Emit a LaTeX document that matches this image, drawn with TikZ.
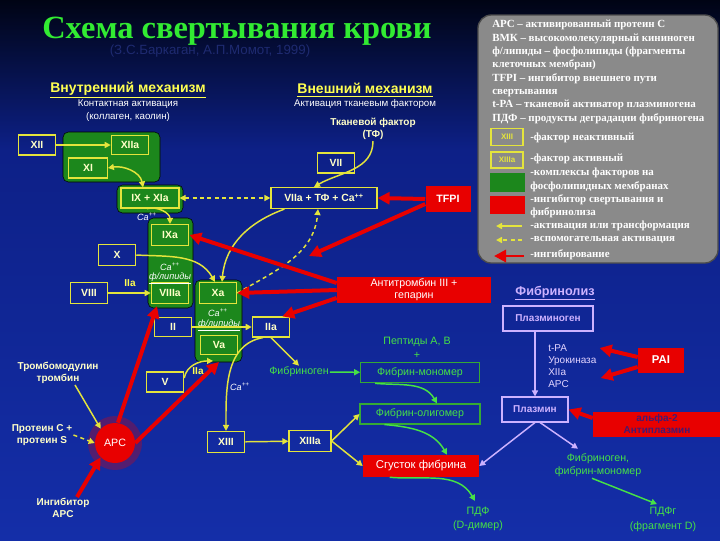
\documentclass[tikz,border=0pt]{standalone}
\usepackage{fontspec}
\setmainfont{Liberation Serif}
\setsansfont{Liberation Sans}
\usetikzlibrary{arrows.meta,calc}

\definecolor{bgtop}{RGB}{0,4,20}
\definecolor{bgmid}{RGB}{13,32,135}
\definecolor{bgblue}{RGB}{20,46,168}
\definecolor{ylw}{RGB}{228,228,60}
\definecolor{boxtxt}{RGB}{255,255,200}
\definecolor{hdr}{RGB}{255,255,80}
\definecolor{cplx}{RGB}{28,135,28}
\definecolor{inhred}{RGB}{232,0,0}
\definecolor{fibgrn}{RGB}{70,225,70}
\definecolor{lysis}{RGB}{205,178,255}
\definecolor{lgdgray}{RGB}{138,138,138}
\definecolor{ttlgrn}{RGB}{50,235,50}
\definecolor{subttl}{RGB}{30,42,112}
\definecolor{antipl}{RGB}{70,25,110}

\tikzset{
  fct/.style={draw=ylw, line width=0.9pt, text=boxtxt, inner sep=0pt,
    minimum width=28pt, minimum height=15pt,
    font=\sffamily\bfseries\fontsize{7.8}{9}\selectfont},
  cplxbox/.style={fill=cplx, rounded corners=4pt},
  inhbox/.style={fill=inhred, text=white, inner sep=0pt, align=center,
    font=\sffamily\fontsize{8}{9}\selectfont},
  fibbox/.style={draw=fibgrn!75!black, line width=0.8pt, text=fibgrn, inner sep=0pt,
    minimum width=89pt, minimum height=15.5pt, font=\sffamily\fontsize{8}{9}\selectfont},
  lysbox/.style={draw=lysis, line width=0.8pt, text=lysis, inner sep=0pt,
    minimum height=18.75pt, font=\sffamily\bfseries\fontsize{7.5}{9}\selectfont},
  note/.style={inner sep=0.75pt, align=center, text=boxtxt,
    font=\sffamily\bfseries\fontsize{7.5}{9}\selectfont},
  fibtxt/.style={inner sep=0.75pt, align=center, text=fibgrn,
    font=\sffamily\fontsize{8}{10.5}\selectfont},
  ion/.style={inner sep=0.75pt, text=white, font=\sffamily\itshape\fontsize{6.8}{7}\selectfont},
  lgd/.style={inner sep=0.75pt, align=left, text=white,
    font=\rmfamily\bfseries\fontsize{8.2}{10}\selectfont},
  act/.style={draw=ylw, line width=1.1pt, ->},
  aux/.style={act, dash pattern={on 3pt off 2.5pt}},
  inh/.style={draw=inhred, line width=3pt, -{Triangle[length=9pt,width=9pt]}},
  fib/.style={draw=fibgrn, line width=1.1pt, ->},
  lys/.style={draw=lysis, line width=1.1pt, ->},
}

\begin{document}
\begin{tikzpicture}[x=0.75pt,y=0.75pt,yscale=-1,xscale=1,>={Triangle[length=4.5pt,width=4.5pt]}]
\useasboundingbox (0,0) rectangle (720,540);
%Shape: Rectangle [background]
\shade [top color=bgtop, bottom color=bgmid] (0,0) rectangle (720,150);
\shade [top color=bgmid, bottom color=bgblue] (0,150) rectangle (720,540);

% Text Node
\draw (237,31) node [text=ttlgrn, font=\rmfamily\bfseries\fontsize{24.3}{28}\selectfont] (ttl) {Схема свертывания крови};
% Text Node
\draw (210,51) node [text=subttl, font=\sffamily\fontsize{10}{12}\selectfont] (src) {(З.С.Баркаган, А.П.Момот, 1999)};

%Shape: Rectangle [legend]
\draw [fill=lgdgray, draw=black!70, line width=1pt, rounded corners=10pt] (478,15) rectangle (718,263);
% Text Node
\draw (491,19) node [lgd, anchor=north west] (lgdtxt) {APC – активированный протеин С\\ВМК – высокомолекулярный кининоген\\ф/липиды – фосфолипиды (фрагменты\\клеточных мембран)\\TFPI – ингибитор внешнего пути\\свертывания\\t-PA – тканевой активатор плазминогена\\ПДФ – продукты деградации фибриногена};
\draw (507,137) node [fct, minimum width=24pt, minimum height=12.5pt, text=ylw, font=\sffamily\bfseries\fontsize{6}{7}\selectfont] (lg13) {XIII};
\draw (507,160) node [fct, minimum width=24pt, minimum height=12pt, text=ylw, font=\sffamily\bfseries\fontsize{6}{7}\selectfont] (lg13a) {XIIIa};
\fill [cplx] (490,173) rectangle (525,192);
\fill [inhred] (490,196) rectangle (525,214);
\draw (529,138) node [lgd, anchor=west] (lgd1) {-фактор неактивный};
\draw (529,159) node [lgd, anchor=west] (lgd2) {-фактор активный};
\draw (529,180) node [lgd, anchor=west] (lgd3) {-комплексы факторов на\\фосфолипидных мембранах};
\draw (529,206) node [lgd, anchor=west] (lgd4) {-ингибитор свертывания и\\фибринолиза};
\draw (529,226) node [lgd, anchor=west] (lgd5) {-активация или трансформация};
\draw (529,240) node [lgd, anchor=west] (lgd6) {-вспомогательная активация};
\draw (529,255) node [lgd, anchor=west] (lgd7) {-ингибирование};
\coordinate (la1) at (522,226); \coordinate (lb1) at (496,226);
\coordinate (la2) at (522,240); \coordinate (lb2) at (496,240);
\coordinate (la3) at (524,256); \coordinate (lb3) at (494,256);
\draw [act] (la1) -- (lb1);
\draw [aux] (la2) -- (lb2);
\draw [inh, line width=2.2pt] (la3) -- (lb3);

% Text Node
\draw (128,90) node [text=hdr, font=\sffamily\bfseries\fontsize{10.5}{12}\selectfont] (intr) {\underline{Внутренний механизм}};
\draw (128,110.5) node [note, text=white, font=\sffamily\fontsize{7.3}{9.75}\selectfont] (contact) {Контактная активация\\(коллаген, каолин)};
\draw (365,90) node [text=hdr, font=\sffamily\bfseries\fontsize{10.5}{12}\selectfont] (extr) {\underline{Внешний механизм}};
\draw (365,104) node [note, text=white, font=\sffamily\fontsize{7.3}{9}\selectfont] (tfact) {Активация тканевым фактором};
\draw (373,129) node [note] (tf) {Тканевой фактор\\(ТФ)};

%Shape: Rectangle [complexes]
\draw [cplxbox] (63,132) rectangle (160,182);
\draw [cplxbox] (117,185) rectangle (183,213);
\draw [cplxbox] (148,218) rectangle (193,308);
\draw [cplxbox] (195,280) rectangle (242,362);

% Factors
\draw (37,145) node [fct] (f12) {XII};
\draw (130,145) node [fct, minimum height=14.25pt] (f12a) {XIIa};
\draw (88,168) node [fct, minimum width=29pt] (f11) {XI};
\draw (150,198) node [fct, minimum width=43.5pt] (f9f11a) {IX + XIa};
\draw (170,235) node [fct, minimum height=15.75pt] (f9a) {IXa};
\draw (117,255) node [fct, minimum height=15.75pt] (f10) {X};
\draw (89,293) node [fct, minimum height=15.75pt] (f8) {VIII};
\draw (170,293) node [fct, minimum height=15.75pt] (f8a) {VIIIa};
\draw (218,293) node [fct, minimum height=15.75pt] (f10a) {Xa};
\draw (173,327) node [fct, minimum height=14.25pt] (f2) {II};
\draw (219,345) node [fct, minimum height=14pt] (f5a) {Va};
\draw (271,327) node [fct] (f2a) {IIa};
\draw (165,382) node [fct] (f5) {V};
\draw (226,442) node [fct, minimum height=15.75pt] (f13) {XIII};
\draw (310,441) node [fct, minimum width=31.5pt, minimum height=15.75pt] (f13a) {XIIIa};
\draw (336,163) node [fct] (f7) {VII};
\draw (324,198) node [fct, minimum width=79.5pt, minimum height=15.75pt] (f7tf) {VIIa + ТФ + Ca\textsuperscript{++}};

% Text Node
\draw (147,217) node [ion] (ca1) {Ca\textsuperscript{++}};
\draw (170,267) node [ion] (ca2) {Ca\textsuperscript{++}};
\draw (170,278) node [ion] (pl1) {\underline{ф/липиды}};
\draw (218,313) node [ion] (ca3) {Ca\textsuperscript{++}};
\draw (219,325) node [ion] (pl2) {\underline{ф/липиды}};
\draw (240,387) node [ion] (ca4) {Ca\textsuperscript{++}};
\draw (130,283) node [note, text=hdr] (iia1) {IIa};
\draw (198,371) node [note, text=hdr] (iia2) {IIa};

% Inhibitors
\draw (448,199) node [inhbox, minimum width=33.75pt, minimum height=20pt, font=\sffamily\bfseries\fontsize{8}{9}\selectfont] (tfpi) {TFPI};
\draw (414,290) node [inhbox, minimum width=115.5pt, minimum height=20pt] (at3) {Антитромбин III +\\гепарин};
\draw (661,360) node [inhbox, minimum width=34.5pt, minimum height=18.75pt, font=\sffamily\bfseries\fontsize{8.5}{9}\selectfont] (pai) {PAI};
\draw (657,424) node [inhbox, minimum width=96pt, minimum height=18.75pt, text=antipl, font=\sffamily\bfseries\fontsize{7.5}{8.5}\selectfont] (a2ap) {альфа-2\\Антиплазмин};
\draw (421,466) node [inhbox, minimum width=87pt, minimum height=16.5pt, font=\sffamily\fontsize{8.5}{9}\selectfont] (clot) {Сгусток фибрина};
\fill [inhred, opacity=0.3] (115,443) circle (27);
\draw (115,443) node [circle, fill=inhred, minimum size=30pt, inner sep=0pt, text=white, font=\sffamily\fontsize{8}{9}\selectfont] (apc) {APC};
\coordinate (tfpitip) at (309,256);

% Fibrin
\draw (299,372) node [fibtxt] (fgn) {Фибриноген};
\draw (417,348) node [fibtxt] (pept) {Пептиды А, В\\+};
\draw (420,372.5) node [fibbox] (mono) {Фибрин-мономер};
\draw (420,414) node [fibbox, minimum width=90pt, minimum height=15pt] (oligo) {Фибрин-олигомер};
\draw (478,519) node [fibtxt] (pdf) {ПДФ\\(D-димер)};
\draw (598,465.5) node [fibtxt, font=\sffamily\fontsize{8}{9.75}\selectfont] (fgm) {Фибриноген,\\фибрин-мономер};
\draw (663,519.5) node [fibtxt, font=\sffamily\fontsize{8}{11}\selectfont] (pdfg) {ПДФг\\(фрагмент D)};

% Fibrinolysis
\draw (555,293) node [text=lysis, font=\sffamily\bfseries\fontsize{9.5}{11}\selectfont] (lysttl) {\underline{Фибринолиз}};
\draw (548,318.5) node [lysbox, minimum width=67.5pt] (plg) {Плазминоген};
\draw (535,409.5) node [lysbox, minimum width=49.5pt] (pl) {Плазмин};
\draw (547,366) node [anchor=west, align=left, inner sep=0.75pt, text=lysis!55!white, font=\sffamily\fontsize{7.5}{9}\selectfont] (plgact) {t-PA\\Урокиназа\\XIIa\\APC};

% Notes
\draw (58,373) node [note] (tmod) {Тромбомодулин\\тромбин};
\draw (42,435) node [note] (protc) {Протеин С +\\протеин S};
\draw (63,508) node [note] (inhapc) {Ингибитор\\APC};

%Straight Lines
\draw [act] (f12) -- (f12a);
\draw [act] (f8) -- (f8a);
\draw [act] (f2) -- (f2a);
\draw [act] (f13) -- (f13a);
\draw [act] (f13a.east) -- (oligo.west);
\draw [act] (f13a.east) -- (clot.west);
\draw [act] (f2a.south) -- (fgn.north);
\draw [act] ($(tmod.south)+(17,0)$) -- (apc.north west);
\draw [aux] (protc.east) -- (apc.west);
\draw [aux, <->] (f9f11a.east) -- (f7tf.west);
%Curve Lines
\draw [act, <->] (f11.east) to[out=-10, in=-100] ($(f9f11a.north)+(-7,0)$);
\draw [act] ($(f9f11a.south)+(-3,0)$) to[out=-15, in=-90] (f9a.north);
\draw [act] (f10.east) to[out=3, in=-120] ($(f10a.north)+(-3,0)$);
\draw [act] (tf.south) to[out=90, in=-30] ($(f7tf.north)+(-10,0)$);
\draw [act] ($(f7tf.south west)+(14,0)$) to[out=160, in=-85] ($(f10a.north)+(4,0)$);
\draw [aux] (f10a.east) to[out=-30, in=95] ($(f7tf.south)+(-6,0)$);
\draw [act] ($(f5.east)+(0,-4)$) to[out=-80, in=180] ($(f5a.south)+(-6,6)$);
\draw [act] ($(f2a.south)+(-8,0)$) to[out=170, in=-90] (f13.north);

% Fibrin arrows
\draw [fib] (fgn) -- (mono);
\draw [fib] ($(mono.south west)+(15,0)$) to[out=5, in=-120] ($(oligo.north)+(17,0)$);
\draw [fib] ($(oligo.south west)+(25,0)$) to[out=5, in=-120] ($(clot.north)+(26,0)$);
\draw [fib] ($(clot.south west)+(27,0)$) to[out=5, in=-120] ($(pdf.north)+(-3,-5)$);
\draw [fib] ($(fgm.south)+(-6,0)$) -- ($(pdfg.north)+(-6,-2)$);

% Fibrinolysis arrows
\draw [lys] (plg.south -| pl.north) -- (pl.north);
\draw [lys] (pl.south) -- (clot.east);
\draw [lys] ($(pl.south)+(5,0)$) -- ($(fgm.north)+(-20,-4)$);

% Inhibition
\draw [inh] (tfpi.west) -- (f7tf.east);
\draw [inh] ($(tfpi.west)+(0,5)$) -- (tfpitip);
\draw [inh] ($(at3.west)+(0,-7)$) -- (f9a.east);
\draw [inh] (at3.west) -- (f10a.east);
\draw [inh] ($(at3.west)+(0,8)$) -- ($(f2a.north east)+(-8,0)$);
\draw [inh] ($(apc.north)+(3,0)$) -- ($(f8a.south)+(-13,2)$);
\draw [inh] (apc.east) -- ($(f5a.south)+(0,7)$);
\draw [inh] ($(inhapc.north)+(14,0)$) -- (apc.south west);
\draw [inh] ($(pai.west)+(0,-3)$) -- ($(plgact.east)+(2,-18)$);
\draw [inh] ($(pai.west)+(0,7)$) -- ($(plgact.east)+(3,12)$);
\draw [inh] ($(a2ap.west)+(0,-6)$) -- (pl.east);
\end{tikzpicture}
\end{document}
